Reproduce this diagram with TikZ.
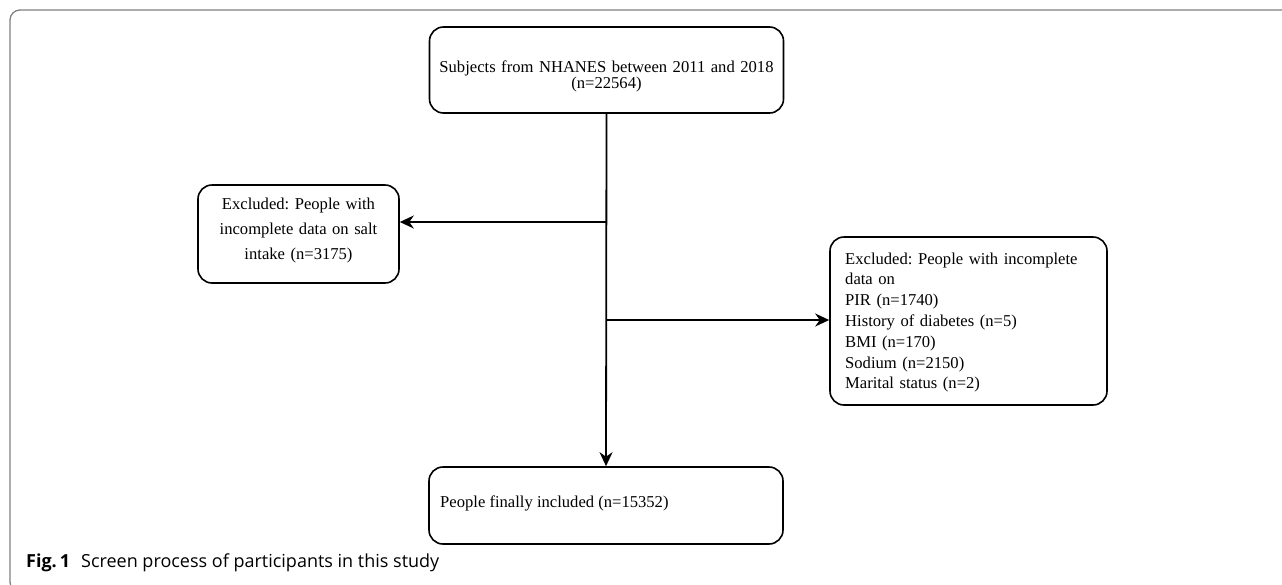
\documentclass[tikz,border=0pt]{standalone}
\usepackage{fontspec}
\setmainfont{Liberation Serif}
\newfontfamily\capfont{Open Sans}
\usetikzlibrary{arrows.meta}
\frenchspacing
\begin{document}
\begin{tikzpicture}[x=1pt,y=-1pt,
  frame/.style={draw=black!50,line width=1.3pt,rounded corners=10pt},
  flowbox/.style={draw=black,line width=1.6pt,rounded corners=14pt,inner sep=0pt},
  txt/.style={inner sep=0pt,font=\fontsize{16.6}{17}\selectfont},
  conn/.style={draw=black,line width=1.8pt},
  arr/.style={conn,-{Stealth[length=14pt,width=13pt,inset=4.5pt]}}]
\useasboundingbox (0,0) rectangle (1282,584);
\clip (0,0) rectangle (1282,584);
\draw[frame] (10,10) rectangle (1300,592);
% boxes
\node[flowbox,minimum width=354pt,minimum height=86pt] (top) at (606.5,70) {};
\node[flowbox,minimum width=201pt,minimum height=98pt] (left) at (298.5,234) {};
\node[flowbox,minimum width=277pt,minimum height=168pt] (right) at (968.5,321) {};
\node[flowbox,minimum width=354pt,minimum height=77pt] (bottom) at (606,505.5) {};
% texts
\node[txt,anchor=base,text width=354pt,align=center,font=\fontsize{16.6}{16.5}\selectfont] (toptxt) at (606.5,72) {Subjects from NHANES between 2011 and 2018\\(n=22564)};
\node[txt,anchor=base,text width=201pt,align=center,font=\fontsize{16.6}{25}\selectfont] (lefttxt) at (298.5,209) {Excluded: People with\\incomplete data on salt\\intake (n=3175)};
\node[txt,anchor=base west,text width=260pt,align=left,font=\fontsize{16.6}{20.8}\selectfont] (righttxt) at (845,264) {Excluded: People with incomplete\\data on\\PIR (n=1740)\\History of diabetes (n=5)\\BMI (n=170)\\Sodium (n=2150)\\Marital status (n=2)};
\node[txt,anchor=base west] (bottomtxt) at (440,507) {People finally included (n=15352)};
% connectors
\coordinate (jL) at (606.5,222);
\coordinate (jR) at (606.5,320);
\draw[arr] (top.south) -- (bottom.north);
\draw[arr] (jL) -- (left.east |- jL);
\draw[arr] (jR) -- (right.west |- jR);
% caption
\node[inner sep=0pt,anchor=base west,font=\capfont\fontsize{18}{18}\selectfont] (cap) at (26,567) {\textbf{Fig.\,1}\hspace{11pt}Screen process of participants in this study};
\end{tikzpicture}
\end{document}
